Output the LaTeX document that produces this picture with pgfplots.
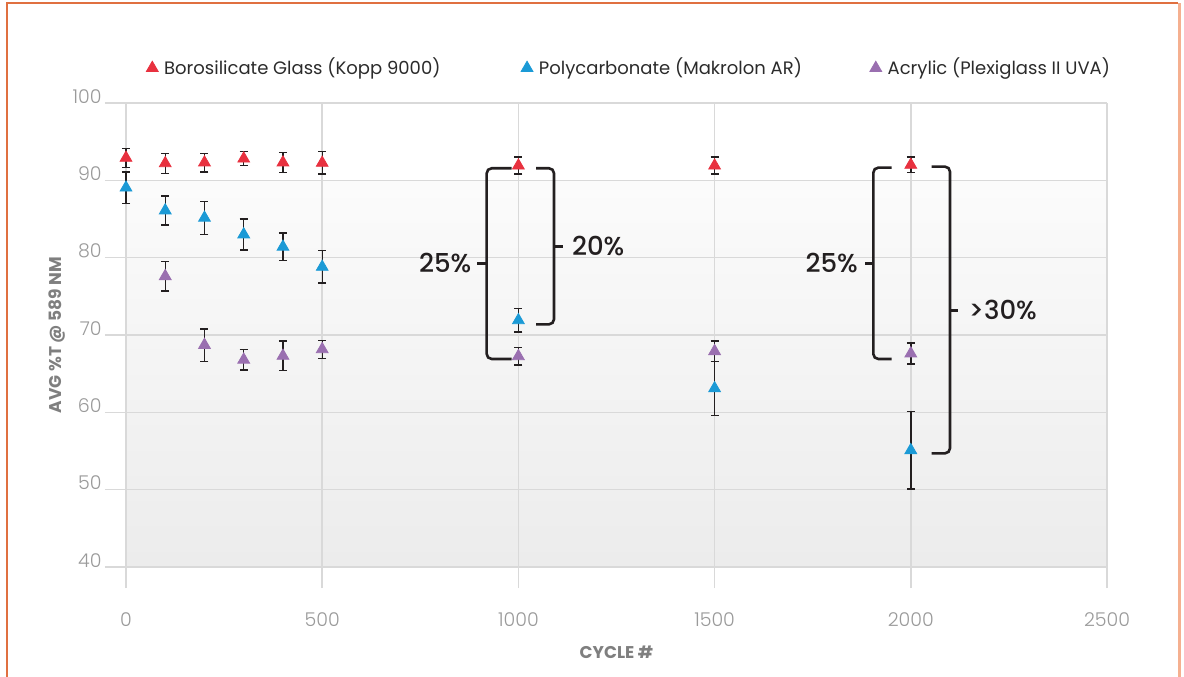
\documentclass[border=0pt]{standalone}
\usepackage{fontspec}
\setmainfont{Poppins}
\newfontfamily\lightfont{Poppins}[UprightFont={* Light}]
\newfontfamily\medfont{Poppins}[UprightFont={* Medium}]
\usepackage{pgfplots}
\pgfplotsset{compat=1.18}
\definecolor{cred}{HTML}{E8313F}
\definecolor{cblue}{HTML}{1B9AD6}
\definecolor{cpurp}{HTML}{9A6FB0}
\definecolor{gridc}{HTML}{D9D9D9}
\definecolor{tickc}{HTML}{9A9A9A}
\definecolor{labc}{HTML}{7F7F7F}
\definecolor{framec}{HTML}{E07040}
\definecolor{framel}{HTML}{F5B090}
\definecolor{annot}{HTML}{231F20}
\definecolor{legc}{HTML}{2B2B2B}

\pgfplotstableread{
x y e
0 92.9 1.25
100 92.2 1.3
200 92.3 1.2
300 92.8 0.9
400 92.3 1.3
500 92.25 1.45
1000 91.9 1.1
1500 91.9 1.1
2000 92.0 1.0
}\boro
\pgfplotstableread{
x y e
0 89.05 2.05
100 86.1 1.9
200 85.15 2.15
300 83.0 2.0
400 81.4 1.8
500 78.8 2.1
1000 71.9 1.5
1500 63.1 3.5
2000 55.1 5.0
}\poly
\pgfplotstableread{
x y e
100 77.6 1.9
200 68.7 2.1
300 66.8 1.3
400 67.3 1.9
500 68.15 1.15
1000 67.25 1.15
1500 67.9 1.3
2000 67.6 1.35
}\acry

\begin{document}
\begin{tikzpicture}
\begin{axis}[
  at={(0,0)}, anchor=south west,
  set layers, clip=false,
  scale only axis, width=490.5bp, height=232bp,
  xmin=0, xmax=2500, ymin=40, ymax=100,
  xtick={0,500,...,2500}, ytick={40,50,...,100},
  grid=major, major grid style={gridc, line width=0.75bp},
  axis line style={draw=none},
  tick align=outside, major tick length=10.5bp, tick pos=left,
  tick style={gridc, line width=0.75bp},
  /pgf/number format/assume math mode=true,
  /pgf/number format/1000 sep={},
  ticklabel style={font=\lightfont\fontsize{9.5bp}{11bp}\selectfont, text=tickc},
  yticklabel style={anchor=base east, inner sep=1.5bp},
  xticklabel style={yshift=-9bp},
  xlabel={CYCLE \#}, ylabel={AVG \%T @ 589 NM},
  xlabel style={font=\bfseries\fontsize{8.5bp}{10bp}\selectfont, text=labc, at={(axis description cs:0.5,-0.1832)}, anchor=center},
  ylabel style={font=\bfseries\fontsize{8.5bp}{10bp}\selectfont, text=labc, at={(axis description cs:-0.0703,0.5)}, anchor=center},
  legend columns=3,
  legend image code/.code={\draw[#1] plot coordinates {(0bp,0bp)};},
  legend style={at={(axis description cs:0.0204,1.0754)}, anchor=west, draw=none, fill=none,
     column sep=0bp, inner sep=0bp, cells={anchor=west},
     font=\fontsize{9bp}{11bp}\selectfont, text=legc},
  every axis plot/.append style={only marks, mark=triangle*, mark size=3.4bp,
     /pgfplots/error bars/y dir=both, /pgfplots/error bars/y explicit,
     /pgfplots/error bars/error bar style={annot, line width=0.7bp},
     /pgfplots/error bars/error mark options={rotate=90, annot, mark size=2bp, line width=0.7bp}},
]
\begin{pgfonlayer}{axis background}
\fill[top color=gray!3, bottom color=gray!15] (axis cs:0,40) rectangle (axis cs:2500,90);
\end{pgfonlayer}
\addplot[color=cred, mark options={draw=cred, fill=cred}] table[x=x, y=y, y error=e] {\boro};
\addlegendentry{\hspace{1bp}\makebox[176.5bp][l]{Borosilicate Glass (Kopp 9000)}}
\addplot[color=cblue, mark options={draw=cblue, fill=cblue}] table[x=x, y=y, y error=e] {\poly};
\addlegendentry{\hspace{1bp}\makebox[163.5bp][l]{Polycarbonate (Makrolon AR)}}
\addplot[color=cpurp, mark options={draw=cpurp, fill=cpurp}] table[x=x, y=y, y error=e] {\acry};
\addlegendentry{\hspace{1bp}Acrylic (Plexiglass II UVA)}

\begin{scope}[annot, line width=1.3bp, rounded corners=2.5bp]
\draw (axis cs:982.9,91.56) -- (axis cs:919.2,91.56) -- (axis cs:919.2,66.9) -- (axis cs:982.9,66.9);
\draw (axis cs:1044.9,91.56) -- (axis cs:1090.7,91.56) -- (axis cs:1090.7,71.38) -- (axis cs:1044.9,71.38);
\draw (axis cs:1951.3,91.64) -- (axis cs:1904.5,91.64) -- (axis cs:1904.5,66.9) -- (axis cs:1951.3,66.9);
\draw (axis cs:2053.3,91.77) -- (axis cs:2099.9,91.77) -- (axis cs:2099.9,54.7) -- (axis cs:2053.3,54.7);
\end{scope}
\begin{scope}[annot, line width=1.3bp]
\draw (axis cs:919.2,79.23) -- (axis cs:895.3,79.23);
\draw (axis cs:1090.7,81.47) -- (axis cs:1114.5,81.47);
\draw (axis cs:1904.5,79.27) -- (axis cs:1883,79.27);
\draw (axis cs:2099.9,73.2) -- (axis cs:2121,73.2);
\end{scope}
\begin{scope}[every node/.style={inner sep=0pt, text=annot, font=\medfont\fontsize{13bp}{15bp}\selectfont}]
\node[anchor=east] at (axis cs:881,79.3) {25\%};
\node[anchor=west] at (axis cs:1135.6,81.47) {20\%};
\node[anchor=east] at (axis cs:1866,79.3) {25\%};
\node[anchor=west] at (axis cs:2146.6,73.2) {>30\%};
\end{scope}
\end{axis}
\path[use as bounding box] (-63bp,-55bp) rectangle (529bp,283.5bp);
\draw[framec, line width=1bp] (-59.25bp,-55bp) -- (-59.25bp,281.85bp) -- (526bp,281.85bp);
\draw[framel, line width=1.5bp] (526.5bp,281.85bp) -- (526.5bp,-55bp);
\end{tikzpicture}
\end{document}
